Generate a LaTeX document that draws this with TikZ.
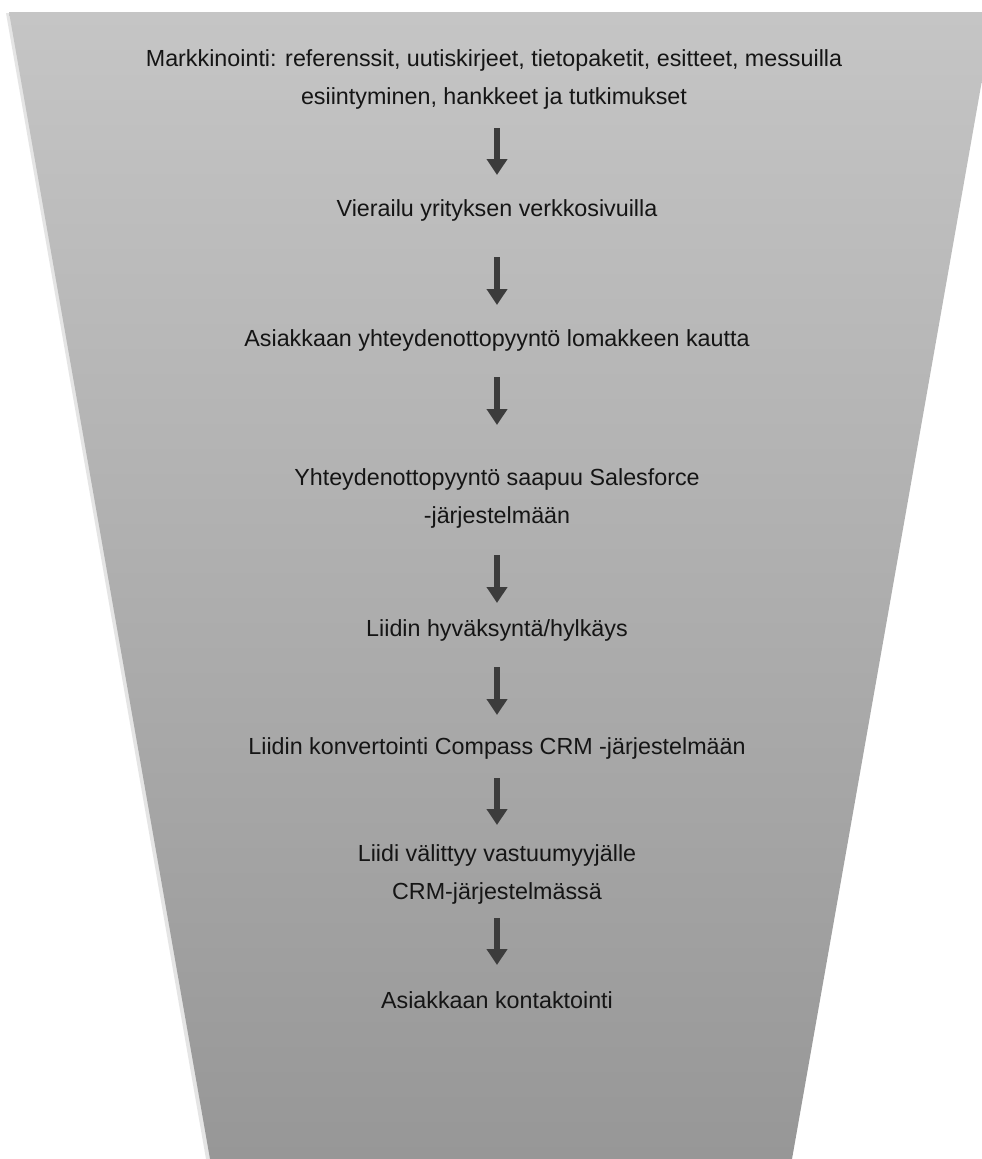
\documentclass[tikz,border=0pt]{standalone}
\usepackage{fontspec}
\setmainfont{Liberation Sans}
\usetikzlibrary{arrows.meta}
\definecolor{funneltop}{HTML}{C5C5C5}
\definecolor{funnelbot}{HTML}{979797}
\definecolor{txtgray}{HTML}{151515}
\definecolor{arrowgray}{HTML}{3C3C3C}
\begin{document}
\begin{tikzpicture}[x=1pt,y=-1pt,
  stepnode/.style={font=\fontsize{23.3}{38}\selectfont, text=txtgray, align=center, inner sep=0pt},
  flowarrow/.style={draw=arrowgray, line width=6pt, -{Triangle[width=20pt,length=16pt]}}]
\useasboundingbox (0,0) rectangle (982,1159);
\fill[white] (0,0) rectangle (982,1159);
\fill[black!10] (6,13) -- (991,13) -- (789,1159) -- (206,1159) -- cycle;
\shade[top color=funneltop, bottom color=funnelbot] (9,12) -- (994,12) -- (792,1159) -- (210,1159) -- cycle;
\node[stepnode] (s1) at (494,79) {Markkinointi: referenssit, uutiskirjeet, tietopaketit, esitteet, messuilla\\esiintyminen, hankkeet ja tutkimukset};
\node[stepnode] (s2) at (497,210) {Vierailu yrityksen verkkosivuilla};
\node[stepnode] (s3) at (497,340) {Asiakkaan yhteydenottopyyntö lomakkeen kautta};
\node[stepnode] (s4) at (497,498) {Yhteydenottopyyntö saapuu Salesforce\\-järjestelmään};
\node[stepnode] (s5) at (497,630) {Liidin hyväksyntä/hylkäys};
\node[stepnode] (s6) at (497,748) {Liidin konvertointi Compass CRM -järjestelmään};
\node[stepnode] (s7) at (497,874) {Liidi välittyy vastuumyyjälle\\CRM-järjestelmässä};
\node[stepnode] (s8) at (497,1000) {Asiakkaan kontaktointi};
\draw[flowarrow] ([yshift=-49pt]s2.center |- s1.center) -- ([yshift=35pt]s2.center);
\draw[flowarrow] ([yshift=-47pt]s2.center) -- ([yshift=35pt]s3.center);
\draw[flowarrow] ([yshift=-37pt]s3.center) -- ([yshift=73pt]s4.center);
\draw[flowarrow] ([yshift=-57pt]s4.center) -- ([yshift=27pt]s5.center);
\draw[flowarrow] ([yshift=-37pt]s5.center) -- ([yshift=33pt]s6.center);
\draw[flowarrow] ([yshift=-30pt]s6.center) -- ([yshift=49pt]s7.center);
\draw[flowarrow] ([yshift=-44pt]s7.center) -- ([yshift=35pt]s8.center);
\end{tikzpicture}
\end{document}
